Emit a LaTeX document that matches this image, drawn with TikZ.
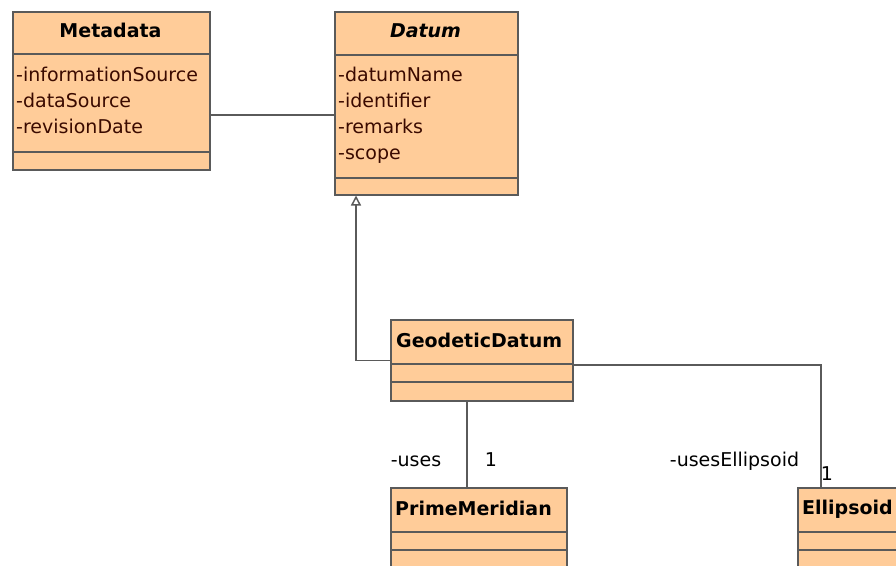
\documentclass[tikz,border=0pt]{standalone}
\usepackage{fontspec}
\setmainfont{DejaVu Sans}
\usetikzlibrary{arrows.meta}
\definecolor{classfill}{HTML}{FFCC99}
\definecolor{classline}{HTML}{5A5A5A}
\definecolor{attrtext}{HTML}{3A0A00}

\begin{document}
\begin{tikzpicture}[x=1pt, y=-1pt,
    class box/.style={draw=classline, fill=classfill, line width=1.5pt, anchor=north west, inner sep=0pt},
    class name/.style={font=\fontsize{19}{22}\selectfont\bfseries, inner sep=0pt},
    attribute/.style={font=\fontsize{19}{22}\selectfont, text=attrtext, inner sep=0pt, anchor=base west},
    role/.style={font=\fontsize{19}{22}\selectfont, inner sep=0pt, anchor=base},
    link/.style={draw=classline, line width=1.5pt}]
    \useasboundingbox (0,0) rectangle (896,565);
    \clip (0,0) rectangle (896,565);

    % Metadata
    \node[class box, minimum width=197pt, minimum height=158pt] (meta) at (12,11) {};
    \draw[link] (meta.west |- 0,54) -- (meta.east |- 0,54);
    \draw[link] (meta.west |- 0,152) -- (meta.east |- 0,152);
    \node[class name, anchor=base] (metaT) at (110.5,37) {Metadata};
    \foreach \a [count=\i] in {informationSource, dataSource, revisionDate}
        \node[attribute] (metaA\i) at (16,{81+26*(\i-1)}) {-\a};

    % Datum
    \node[class box, minimum width=183pt, minimum height=183pt] (datum) at (334,11) {};
    \draw[link] (datum.west |- 0,55) -- (datum.east |- 0,55);
    \draw[link] (datum.west |- 0,178) -- (datum.east |- 0,178);
    \node[class name, anchor=base, font=\fontsize{19}{22}\selectfont\bfseries\itshape] (datumT) at (425.5,37) {Datum};
    \foreach \a [count=\i] in {datumName, identifier, remarks, scope}
        \node[attribute] (datumA\i) at (338,{81+26*(\i-1)}) {-\a};

    % GeodeticDatum
    \node[class box, minimum width=182pt, minimum height=81pt] (geo) at (390,319) {};
    \draw[link] (geo.west |- 0,364) -- (geo.east |- 0,364);
    \draw[link] (geo.west |- 0,382) -- (geo.east |- 0,382);
    \node[class name, anchor=base west] (geoT) at (396,347) {GeodeticDatum};

    % PrimeMeridian
    \node[class box, minimum width=176pt, minimum height=81pt] (prime) at (390,487) {};
    \draw[link] (prime.west |- 0,532) -- (prime.east |- 0,532);
    \draw[link] (prime.west |- 0,550) -- (prime.east |- 0,550);
    \node[class name, anchor=base west] (primeT) at (395,515) {PrimeMeridian};

    % Ellipsoid
    \node[class box, minimum width=108pt, minimum height=81pt] (ell) at (797,487) {};
    \draw[link] (ell.west |- 0,532) -- (ell.east |- 0,532);
    \draw[link] (ell.west |- 0,550) -- (ell.east |- 0,550);
    \node[class name, anchor=base west] (ellT) at (802,514) {Ellipsoid};

    % associations
    \draw[link] (meta.east |- 0,115) -- (datum.west |- 0,115);
    \draw[link, -{Triangle[open, width=10pt, length=10pt]}] (geo.west) -| ([xshift=22pt]datum.south west);
    \draw[link] (geo.south -| 467,0) -- (prime.north -| 467,0);
    \draw[link] (geo.east |- 0,365) -| (ell.north -| 821,0);

    \node[role] (usesRole) at (416,466) {-uses};
    \node[role] (usesMult) at (491,466) {1};
    \node[role] (ellRole) at (734.5,466) {-usesEllipsoid};
    \node[role] (ellMult) at (827,480) {1};
\end{tikzpicture}
\end{document}
